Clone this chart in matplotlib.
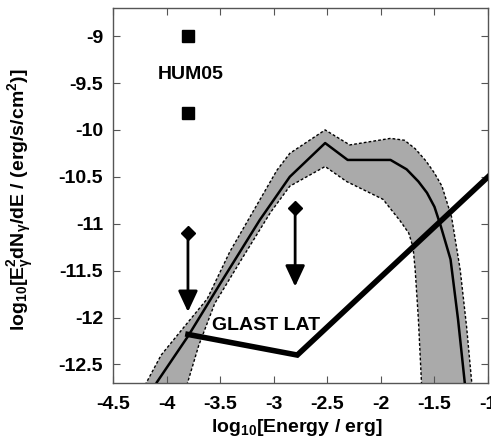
import numpy as np
import matplotlib
matplotlib.use("Agg")
import matplotlib.pyplot as plt

plt.rcParams['font.family'] = ['Liberation Sans', 'DejaVu Sans']
plt.rcParams['font.weight'] = 'bold'
plt.rcParams['mathtext.fontset'] = 'custom'
plt.rcParams['mathtext.rm'] = 'Liberation Sans:bold'
plt.rcParams['mathtext.it'] = 'Liberation Sans:bold'
plt.rcParams['mathtext.bf'] = 'Liberation Sans:bold'
plt.rcParams['mathtext.default'] = 'bf'

# Datos del modelo (curva central)
modelo_x = [-4.09, -3.80, -3.50, -3.13, -2.85, -2.52, -2.31, -1.91, -1.76, -1.65, -1.57, -1.50,
            -1.44, -1.35, -1.28, -1.215]
modelo_y = [-12.69, -12.20, -11.64, -10.96, -10.50, -10.14, -10.32, -10.32, -10.42, -10.55, -10.67, -10.82,
            -11.03, -11.38, -12.02, -12.72]

# Banda de incertidumbre: borde superior e inferior
banda_sup_x = [-4.20, -4.05, -3.85, -3.62, -3.41, -2.97, -2.85, -2.52, -2.29, -1.91, -1.78, -1.68,
               -1.58, -1.50, -1.43, -1.34, -1.26, -1.20, -1.15]
banda_sup_y = [-12.72, -12.40, -12.12, -11.80, -11.30, -10.43, -10.25, -10.00, -10.16, -10.09, -10.11, -10.20,
               -10.33, -10.46, -10.60, -10.93, -11.49, -12.10, -12.72]
banda_inf_x = [-3.81, -3.70, -3.55, -3.30, -3.03, -2.85, -2.52, -2.32, -1.98, -1.82, -1.74, -1.70,
               -1.68, -1.65, -1.62]
banda_inf_y = [-12.72, -12.30, -11.85, -11.38, -10.88, -10.60, -10.39, -10.55, -10.74, -10.97, -11.10, -11.25,
               -11.49, -12.02, -12.72]

# Sensibilidad GLAST LAT
glast_x = [-3.80, -2.78, -1.00]
glast_y = [-12.18, -12.40, -10.50]

# Puntos HUM05
hum_x = [-3.80, -3.80]
hum_y = [-9.00, -9.82]

# Limites superiores (diamante -> punta de flecha)
limites_x = [-3.80, -2.80]
limites_y = [-11.10, -10.83]
limites_punta = [-11.94, -11.67]

fig = plt.figure(figsize=(4.91, 4.43), dpi=100)
ax = fig.add_axes([0.230, 0.135, 0.764, 0.847])

poligono_x = banda_sup_x + banda_inf_x[::-1]
poligono_y = banda_sup_y + banda_inf_y[::-1]
ax.fill(poligono_x, poligono_y, color='#aaaaaa', lw=0, zorder=1)
ax.plot(banda_sup_x, banda_sup_y, color='k', lw=1.0, ls=(0, (2, 1.5)), zorder=2)
ax.plot(banda_inf_x, banda_inf_y, color='k', lw=1.0, ls=(0, (2, 1.5)), zorder=2)
ax.plot(modelo_x, modelo_y, color='k', lw=1.8, zorder=3)

ax.plot(glast_x, glast_y, color='k', lw=4.0, solid_joinstyle='miter', zorder=4)
ax.text(-3.07, -12.09, 'GLAST LAT', fontsize=14, fontweight='bold', ha='center', va='center', zorder=5)

ax.plot(hum_x, hum_y, ls='none', marker='s', ms=8.5, color='k', zorder=5)
ax.text(-3.77, -9.41, 'HUM05', fontsize=14, fontweight='bold', ha='center', va='center')

for x, y, punta in zip(limites_x, limites_y, limites_punta):
    ax.annotate('', xy=(x, punta), xytext=(x, y),
                arrowprops=dict(arrowstyle='-|>,head_length=0.75,head_width=0.35',
                                color='k', lw=2.0, shrinkA=0, shrinkB=0, mutation_scale=17))
    ax.plot(x, y, marker='D', ms=7.5, color='k', zorder=5)

ax.set_xlim(-4.5, -1.0)
ax.set_ylim(-12.7, -8.7)
ax.set_xticks(np.arange(-4.5, -0.99, 0.5))
ax.set_xticklabels(['-4.5', '-4', '-3.5', '-3', '-2.5', '-2', '-1.5', '-1'])
ax.set_yticks(np.arange(-12.5, -8.99, 0.5))
ax.set_yticklabels(['-12.5', '-12', '-11.5', '-11', '-10.5', '-10', '-9.5', '-9'])
ax.tick_params(direction='in', top=True, right=True, length=5, width=0.8,
               labelsize=14, color='#555555')
ax.tick_params(axis='y', pad=7)
ax.tick_params(axis='x', pad=9)
for s in ax.spines.values():
    s.set_color('#555555')
    s.set_linewidth(1.0)

ax.set_xlabel(r'log$_{10}$[Energy / erg]', fontsize=14, fontweight='bold')
ax.set_ylabel(r'log$_{10}$[E$_\gamma^2$dN$_\gamma$/dE / (erg/s/cm$^2$)]', fontsize=14,
              fontweight='bold')
ax.xaxis.set_label_coords(0.49, -0.09)
ax.yaxis.set_label_coords(-0.205, 0.49)

fig.savefig('out.png', dpi=100)
